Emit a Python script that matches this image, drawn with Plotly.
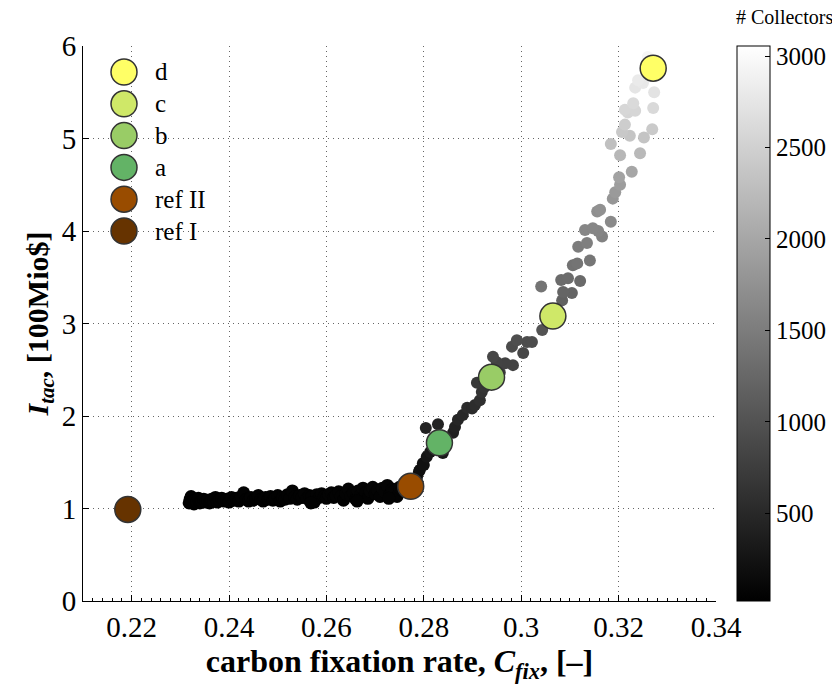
import plotly.graph_objects as go

# ---------------- data ----------------
# low-cost branch (few collectors)
flat_x = [0.2318, 0.2320, 0.2322, 0.2325, 0.2328, 0.2331, 0.2334, 0.2337, 0.2340, 0.2344,
          0.2348, 0.2352, 0.2356, 0.2360, 0.2364, 0.2368, 0.2372, 0.2376, 0.2380, 0.2385,
          0.2390, 0.2395, 0.2400, 0.2405, 0.2410, 0.2415, 0.2420, 0.2425, 0.2430, 0.2435,
          0.2440, 0.2445, 0.2450, 0.2455, 0.2460, 0.2465, 0.2470, 0.2475, 0.2480, 0.2485,
          0.2490, 0.2495, 0.2500, 0.2505, 0.2510, 0.2515, 0.2520, 0.2525, 0.2530, 0.2535,
          0.2540, 0.2545, 0.2550, 0.2555, 0.2560, 0.2565, 0.2570, 0.2575, 0.2580, 0.2585,
          0.2590, 0.2595, 0.2600, 0.2605, 0.2610, 0.2615, 0.2620, 0.2625, 0.2630, 0.2635,
          0.2640, 0.2645, 0.2650, 0.2655, 0.2660, 0.2665, 0.2670, 0.2675, 0.2680, 0.2685,
          0.2690, 0.2695, 0.2700, 0.2705, 0.2710, 0.2715, 0.2720, 0.2725, 0.2730, 0.2735,
          0.2740, 0.2745, 0.2750, 0.2755, 0.2760, 0.2765, 0.2770, 0.2568, 0.2663, 0.2728]
flat_y = [1.06, 1.10, 1.13, 1.08, 1.05, 1.09, 1.07, 1.11, 1.06, 1.08,
          1.10, 1.07, 1.09, 1.06, 1.10, 1.08, 1.12, 1.07, 1.09, 1.11,
          1.08, 1.10, 1.07, 1.12, 1.09, 1.11, 1.08, 1.13, 1.17, 1.10,
          1.08, 1.12, 1.09, 1.11, 1.14, 1.10, 1.08, 1.12, 1.10, 1.13,
          1.09, 1.11, 1.14, 1.08, 1.12, 1.10, 1.15, 1.11, 1.19, 1.13,
          1.10, 1.14, 1.12, 1.16, 1.11, 1.14, 1.13, 1.07, 1.15, 1.12,
          1.16, 1.13, 1.11, 1.15, 1.17, 1.12, 1.14, 1.18, 1.13, 1.09,
          1.16, 1.21, 1.14, 1.17, 1.10, 1.19, 1.15, 1.22, 1.17, 1.11,
          1.19, 1.23, 1.16, 1.20, 1.13, 1.22, 1.18, 1.25, 1.15, 1.21,
          1.19, 1.13, 1.23, 1.20, 1.26, 1.18, 1.22, 1.06, 1.08, 1.11]
flat_n = [22, 25, 30, 24, 21, 28, 26, 32, 23, 27,
          31, 26, 29, 24, 33, 28, 36, 27, 30, 34,
          29, 33, 27, 38, 31, 35, 30, 40, 47, 34,
          31, 39, 33, 37, 43, 36, 32, 41, 37, 44,
          35, 40, 46, 34, 42, 38, 49, 41, 56, 45,
          40, 48, 44, 52, 42, 49, 47, 38, 53, 46,
          55, 49, 44, 54, 58, 47, 52, 61, 50, 42,
          57, 68, 53, 60, 46, 65, 56, 72, 61, 48,
          66, 75, 59, 70, 54, 74, 65, 82, 58, 72,
          68, 56, 79, 71, 88, 66, 80, 40, 45, 50]

# steep branch (many collectors)
rise_x = [0.2776, 0.2780, 0.2786, 0.2790, 0.2792, 0.2798, 0.2800, 0.2806, 0.2813, 0.2819,
          0.2825, 0.2839, 0.2804, 0.2829, 0.2860, 0.2864, 0.2870, 0.2880, 0.2889, 0.2899,
          0.2905, 0.2915, 0.2919, 0.2924, 0.2909, 0.2930, 0.2934, 0.2948, 0.2956, 0.2983,
          0.2967, 0.2950, 0.2942, 0.3004, 0.2981, 0.3012, 0.3022, 0.2991, 0.3043, 0.3084,
          0.3104, 0.3086, 0.3041, 0.3121, 0.3082, 0.3096, 0.3106, 0.3115, 0.3141, 0.3117,
          0.3135, 0.3166, 0.3158, 0.3131, 0.3147, 0.3184, 0.3156, 0.3162, 0.3188, 0.3193,
          0.3203, 0.3201, 0.3227, 0.3203, 0.3244, 0.3184, 0.3252, 0.3223, 0.3207, 0.3269,
          0.3213, 0.3219, 0.3234, 0.3213, 0.3271, 0.3230, 0.3273, 0.3234, 0.3250, 0.3240,
          0.3260]
rise_y = [1.27, 1.29, 1.34, 1.40, 1.42, 1.49, 1.47, 1.56, 1.61, 1.64,
          1.68, 1.60, 1.87, 1.91, 1.82, 1.88, 1.96, 2.01, 2.09, 2.08,
          2.12, 2.17, 2.26, 2.31, 2.36, 2.38, 2.48, 2.50, 2.47, 2.55,
          2.57, 2.58, 2.64, 2.68, 2.75, 2.80, 2.80, 2.82, 2.93, 3.25,
          3.33, 3.34, 3.40, 3.46, 3.47, 3.49, 3.63, 3.65, 3.68, 3.83,
          3.87, 3.94, 4.00, 4.01, 4.03, 4.10, 4.21, 4.23, 4.35, 4.42,
          4.50, 4.58, 4.64, 4.82, 4.84, 4.94, 5.01, 5.03, 5.07, 5.10,
          5.15, 5.28, 5.30, 5.31, 5.33, 5.38, 5.50, 5.55, 5.60, 5.63,
          5.88]
rise_n = [110, 130, 160, 180, 200, 230, 220, 270, 300, 320,
          340, 310, 420, 440, 400, 430, 470, 500, 540, 530,
          560, 590, 640, 660, 690, 700, 750, 770, 760, 800,
          810, 820, 850, 870, 910, 940, 940, 950, 1010, 1180,
          1210, 1220, 1400, 1280, 1290, 1300, 1380, 1400, 1420, 1500,
          1530, 1570, 1600, 1610, 1620, 1660, 1720, 1740, 1800, 1850,
          1890, 1950, 1990, 2200, 2220, 2300, 2350, 2370, 2400, 2420,
          2460, 2560, 2570, 2580, 2600, 2620, 2720, 2750, 2780, 2800,
          2950]

# highlighted design cases
case_names = ["d", "c", "b", "a", "ref II", "ref I"]
case_x = [0.3271, 0.3065, 0.2939, 0.2832, 0.2773, 0.2192]
case_y = [5.76, 3.08, 2.42, 1.71, 1.24, 0.99]
case_colors = ["#FFFF66", "#CFE868", "#99CC66", "#63B366", "#994C00", "#663300"]

x_tickvals = [0.22, 0.24, 0.26, 0.28, 0.30, 0.32, 0.34]
x_ticktext = ["0.22", "0.24", "0.26", "0.28", "0.3", "0.32", "0.34"]
y_tickvals = [0, 1, 2, 3, 4, 5, 6]
cbar_tickvals = [500, 1000, 1500, 2000, 2500, 3000]

# ---------------- figure ----------------
FONT = "Liberation Serif"
W, H = 832, 686
L, R, T, B = 83, 116, 46, 85
PW, PH = W - L - R, H - T - B

fig = go.Figure()

fig.add_trace(go.Scatter(
    x=flat_x, y=flat_y, mode="markers", showlegend=False,
    marker=dict(size=13, color=flat_n, coloraxis="coloraxis", line=dict(width=0)),
    hoverinfo="skip"))
fig.add_trace(go.Scatter(
    x=rise_x, y=rise_y, mode="markers", showlegend=False,
    marker=dict(size=12, color=rise_n, coloraxis="coloraxis", line=dict(width=0)),
    hoverinfo="skip"))
fig.add_trace(go.Scatter(
    x=case_x, y=case_y, mode="markers", showlegend=False, text=case_names,
    marker=dict(size=26, color=case_colors, line=dict(width=1.5, color="#333333"))))

# custom legend (big circles, like the reference)
leg_px_x, leg_txt_px_x = 124, 153
leg_px_y0, leg_dy = 72, 31.8
shapes, annotations = [], []
for i, (name, col) in enumerate(zip(case_names, case_colors)):
    py = leg_px_y0 + i * leg_dy
    yp = (H - B - py) / PH
    shapes.append(dict(type="circle", xref="paper", yref="paper",
                       xsizemode="pixel", ysizemode="pixel",
                       xanchor=(leg_px_x - L) / PW, yanchor=yp,
                       x0=-13, x1=13, y0=-13, y1=13,
                       fillcolor=col, line=dict(color="#333333", width=1.5)))
    annotations.append(dict(xref="paper", yref="paper", x=(leg_txt_px_x - L) / PW, y=yp,
                            xanchor="left", yanchor="middle", showarrow=False,
                            text=name, font=dict(family=FONT, size=25, color="black")))

annotations.append(dict(xref="paper", yref="paper", x=(785 - L) / PW, y=(H - B - 17) / PH,
                        xanchor="center", yanchor="middle", showarrow=False,
                        text="# Collectors", font=dict(family=FONT, size=20, color="black")))

grid_common = dict(showgrid=True, gridcolor="#666666", gridwidth=1, griddash="1px,4px",
                   showline=True, linecolor="black", linewidth=1, mirror=False,
                   ticks="inside", ticklen=6, tickcolor="black", zeroline=False,
                   tickfont=dict(family=FONT, size=29, color="black"))

fig.update_layout(
    width=W, height=H,
    margin=dict(l=L, r=R, t=T, b=B, autoexpand=False),
    paper_bgcolor="white", plot_bgcolor="white",
    font=dict(family=FONT, color="black"),
    shapes=shapes, annotations=annotations,
    hovermode=False,
    xaxis=dict(range=[0.21, 0.34], tickmode="array", tickvals=x_tickvals, ticktext=x_ticktext,
               minor=dict(ticks="inside", ticklen=3, tickcolor="black", tick0=0.21, dtick=0.002,
                          showgrid=False),
               title=dict(text="<b>carbon fixation rate, <i>C</i><sub><i>fix</i></sub>, [–]</b>",
                          font=dict(family=FONT, size=32, color="black"), standoff=0),
               **grid_common),
    yaxis=dict(range=[0, 6], tickmode="array", tickvals=y_tickvals,
               title=dict(text="<b><i>I</i><sub><i>tac</i></sub>, [100Mio$]</b>",
                          font=dict(family=FONT, size=30, color="black"), standoff=4),
               **grid_common),
    coloraxis=dict(
        cmin=20, cmax=3055,
        colorscale=[[0, "#000000"], [1, "#FFFFFF"]],
        colorbar=dict(x=(737 - L) / PW, xanchor="left", xpad=0, ypad=0,
                      y=0.5, yanchor="middle", len=1.0, lenmode="fraction",
                      thickness=33, thicknessmode="pixels",
                      outlinewidth=1, outlinecolor="black",
                      tickmode="array", tickvals=cbar_tickvals,
                      ticks="inside", ticklen=5, tickcolor="black",
                      tickfont=dict(family=FONT, size=25, color="black"))),
)

fig.write_html("out.html",
               config={"displayModeBar": False, "staticPlot": True},
               post_script="document.body.style.margin='0px';document.body.style.padding='0px';")
